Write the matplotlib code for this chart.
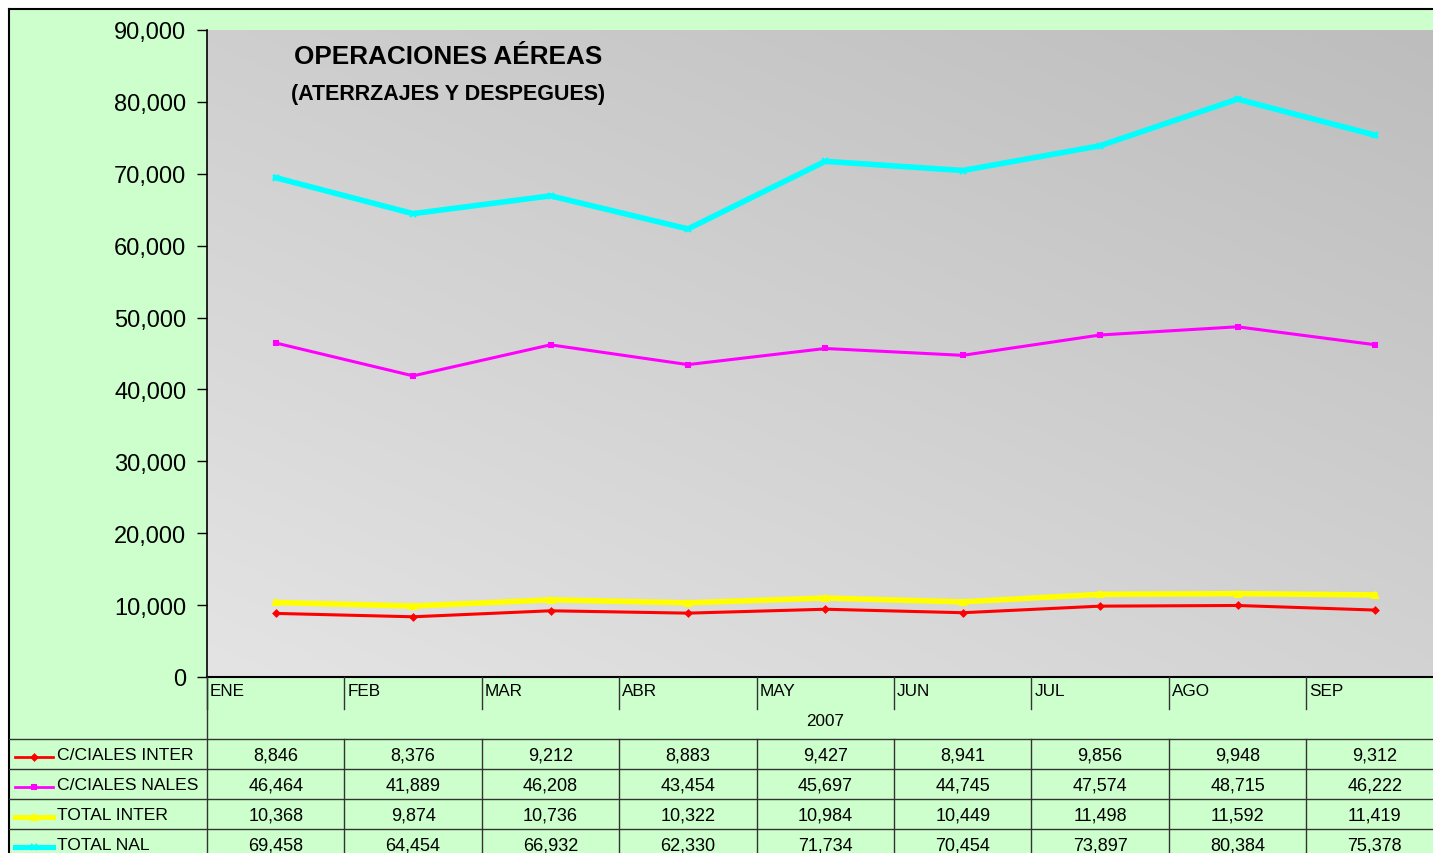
import numpy as np
import matplotlib
matplotlib.use('Agg')
import matplotlib.pyplot as plt
from matplotlib.lines import Line2D

plt.rcParams['font.family'] = ['Liberation Sans', 'DejaVu Sans']

months = ['ENE', 'FEB', 'MAR', 'ABR', 'MAY', 'JUN', 'JUL', 'AGO', 'SEP']
inter = [8846, 8376, 9212, 8883, 9427, 8941, 9856, 9948, 9312]
nales = [46464, 41889, 46208, 43454, 45697, 44745, 47574, 48715, 46222]
tot_inter = [10368, 9874, 10736, 10322, 10984, 10449, 11498, 11592, 11419]
tot_nal = [69458, 64454, 66932, 62330, 71734, 70454, 73897, 80384, 75378]
names = ['C/CIALES INTER', 'C/CIALES NALES', 'TOTAL INTER', 'TOTAL NAL']
series = [inter, nales, tot_inter, tot_nal]
colors = ['#FF0000', '#FF00FF', '#FFFF00', '#00FFFF']
markers = ['D', 's', '^', 'x']
lws = [2.2, 2.2, 4, 4]
msz = [3, 3, 4, 5]

W, H = 1433, 854
fig = plt.figure(figsize=(W/100, H/100), dpi=100)
fig.patch.set_facecolor('white')
green = '#CCFFCC'

def fx(p): return p/W
def fy(p): return 1 - p/H

# green chart area, behind everything
fig.patches.append(plt.Rectangle((fx(9), 0), 1, fy(10), transform=fig.transFigure,
                                 facecolor=green, edgecolor='none', zorder=-10))
fig.add_artist(Line2D([fx(9), fx(9)], [0, fy(10)], color='black', lw=1.5))
fig.add_artist(Line2D([fx(9), 1], [fy(10), fy(10)], color='black', lw=1.5))

colw = 137.4
x0 = 207
ax = fig.add_axes([fx(x0), fy(678), (colw*9)/W, (678-31)/H])
ax.set_xlim(-0.5, 8.5)
ax.set_ylim(0, 90000)
ax.patch.set_alpha(0)

# gradient background
g = np.linspace(0, 1, 200)
gx, gy = np.meshgrid(g, g)
grad = (gx*0.45 + gy*0.55)
ax.imshow(grad, extent=[0, 1, 0, 1], transform=ax.transAxes, origin='lower',
          cmap=matplotlib.colors.LinearSegmentedColormap.from_list('g', ['#E4E4E4', '#BDBDBD']),
          aspect='auto', zorder=0)

x = np.arange(len(months))
for s, c, m, lw, ms in zip(series, colors, markers, lws, msz):
    ax.plot(x, s, color=c, lw=lw, marker=m, ms=ms, mew=1.5, zorder=3)

ax.set_yticks(np.arange(0, 90001, 10000))
ax.set_yticklabels([f'{v:,}' for v in range(0, 90001, 10000)], fontsize=17)
ax.tick_params(axis='y', length=7, width=1, pad=8)
ax.set_xticks([])
for sp in ['top', 'right']:
    ax.spines[sp].set_visible(False)
ax.spines['left'].set_linewidth(1.2)
ax.spines['bottom'].set_linewidth(1.5)

ax.text(0.070, 0.96, 'OPERACIONES AÉREAS', transform=ax.transAxes, fontsize=18.8,
        fontweight='bold', va='center', ha='left')
ax.text(0.068, 0.902, '(ATERRZAJES Y DESPEGUES)', transform=ax.transAxes, fontsize=15.5,
        fontweight='bold', va='center', ha='left')

# category labels and data table
edges = [x0 + i*colw for i in range(10)]
for i, mth in enumerate(months):
    fig.text(fx(edges[i] + 3), fy(692), mth, fontsize=12.3, va='center', ha='left')
    fig.add_artist(Line2D([fx(edges[i]), fx(edges[i])], [fy(678), fy(710)], color='#333333', lw=1))
fig.text(fx(edges[0] + colw*4.5), fy(722), '2007', fontsize=12.3, va='center', ha='center')

rows_y = [740, 770, 800, 830, 860]
for ry in rows_y[:-1]:
    fig.add_artist(Line2D([fx(9), 1], [fy(ry), fy(ry)], color='#333333', lw=1))
fig.add_artist(Line2D([fx(207), fx(207)], [fy(678), 0], color='#333333', lw=1))
for e in edges[1:]:
    fig.add_artist(Line2D([fx(e), fx(e)], [fy(740), 0], color='#333333', lw=1))

for r, (nm, s, c, m, lw, ms) in enumerate(zip(names, series, colors, markers, lws, msz)):
    cy = (rows_y[r] + rows_y[r+1]) / 2 + 1
    fig.add_artist(Line2D([fx(15), fx(53)], [fy(cy + 2), fy(cy + 2)], color=c, lw=lw * 0.9))
    fig.add_artist(Line2D([fx(34)], [fy(cy + 2)], color=c, marker=m, ms=ms, mew=1.5))
    fig.text(fx(57), fy(cy), nm, fontsize=12.6, va='center', ha='left')
    for i, v in enumerate(s):
        fig.text(fx(edges[i] + colw/2), fy(cy), f'{v:,}', fontsize=13, va='center', ha='center')

fig.savefig('out.png', dpi=100, facecolor=fig.get_facecolor())
